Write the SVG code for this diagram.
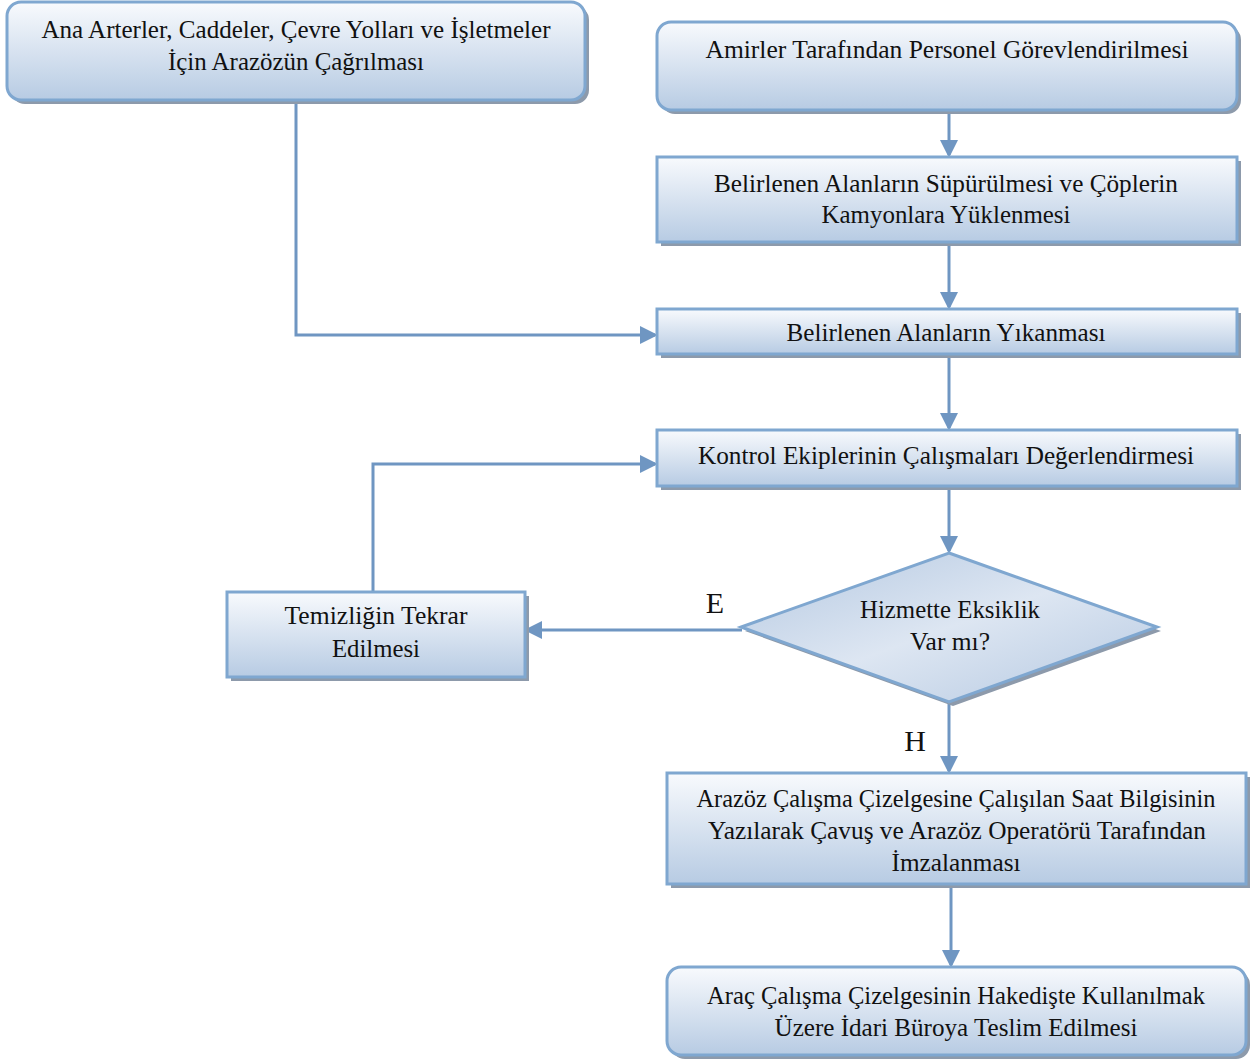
<svg xmlns="http://www.w3.org/2000/svg" width="1250" height="1062" viewBox="0 0 1250 1062">
<defs>
<linearGradient id="g" x1="0" y1="0" x2="0" y2="1">
<stop offset="0" stop-color="#f8fafd"/>
<stop offset="1" stop-color="#b7cbe3"/>
</linearGradient>
<linearGradient id="gd" x1="0" y1="0" x2="1" y2="1">
<stop offset="0" stop-color="#b4c8e1"/>
<stop offset="0.5" stop-color="#dde6f2"/>
<stop offset="1" stop-color="#b4c8e1"/>
</linearGradient>
<marker id="ah" markerWidth="6" markerHeight="6" refX="5" refY="3" orient="auto" markerUnits="strokeWidth">
<path d="M0,0 L6,3 L0,6 z" fill="#6f96c2"/>
</marker>
<style>
.box{fill:url(#g);stroke:#7fa7d0;stroke-width:3}
.sh{fill:#8d9aab}
.dia{fill:url(#gd);stroke:#7fa7d0;stroke-width:3}
.t{font-family:"Liberation Serif","DejaVu Serif",serif;font-size:25px;fill:#111;text-anchor:middle}
.lbl{font-family:"Liberation Serif","DejaVu Serif",serif;font-size:30px;fill:#111;text-anchor:middle}
.c{fill:none;stroke:#6f96c2;stroke-width:3;marker-end:url(#ah)}
</style>
</defs>

<g id="connectors">
<path class="c" d="M949,110 L949,155"/>
<path class="c" d="M949,242 L949,307"/>
<path class="c" d="M949,354 L949,428"/>
<path class="c" d="M949,486 L949,551"/>
<path class="c" d="M949,702 L949,771"/>
<path class="c" d="M951,884 L951,965"/>
<path class="c" d="M296,100 L296,335 L655,335"/>
<path class="c" d="M373,592 L373,464 L655,464"/>
<path class="c" d="M742,630 L527,630"/>
</g>

<g id="n1">
<rect class="sh" x="11" y="6" width="578" height="98" rx="14"/>
<rect class="box" x="7" y="2" width="578" height="98" rx="14"/>
<text class="t" x="296" y="38" textLength="509" lengthAdjust="spacingAndGlyphs">Ana Arterler, Caddeler, Çevre Yolları ve İşletmeler</text>
<text class="t" x="296" y="70" textLength="256" lengthAdjust="spacingAndGlyphs">İçin Arazözün Çağrılması</text>
</g>

<g id="n2">
<rect class="sh" x="661" y="26" width="580" height="88" rx="14"/>
<rect class="box" x="657" y="22" width="580" height="88" rx="14"/>
<text class="t" x="947" y="58" textLength="483" lengthAdjust="spacingAndGlyphs">Amirler Tarafından Personel Görevlendirilmesi</text>
</g>

<g id="n3">
<rect class="sh" x="661" y="161" width="580" height="85"/>
<rect class="box" x="657" y="157" width="580" height="85"/>
<text class="t" x="946" y="192" textLength="464" lengthAdjust="spacingAndGlyphs">Belirlenen Alanların Süpürülmesi ve Çöplerin</text>
<text class="t" x="946" y="223" textLength="249" lengthAdjust="spacingAndGlyphs">Kamyonlara Yüklenmesi</text>
</g>

<g id="n4">
<rect class="sh" x="661" y="313" width="580" height="45"/>
<rect class="box" x="657" y="309" width="580" height="45"/>
<text class="t" x="946" y="341" textLength="319" lengthAdjust="spacingAndGlyphs">Belirlenen Alanların Yıkanması</text>
</g>

<g id="n5">
<rect class="sh" x="661" y="434" width="580" height="56"/>
<rect class="box" x="657" y="430" width="580" height="56"/>
<text class="t" x="946" y="464" textLength="496" lengthAdjust="spacingAndGlyphs">Kontrol Ekiplerinin Çalışmaları Değerlendirmesi</text>
</g>

<g id="d1">
<polygon class="sh" points="953,557 1161,631 953,706 745,631"/>
<polygon class="dia" points="949,553 1157,627 949,702 741,627"/>
<text class="t" x="950" y="618" textLength="180" lengthAdjust="spacingAndGlyphs">Hizmette Eksiklik</text>
<text class="t" x="950" y="650" textLength="80" lengthAdjust="spacingAndGlyphs">Var mı?</text>
</g>

<g id="n6">
<rect class="sh" x="231" y="596" width="298" height="85"/>
<rect class="box" x="227" y="592" width="298" height="85"/>
<text class="t" x="376" y="624" textLength="183" lengthAdjust="spacingAndGlyphs">Temizliğin Tekrar</text>
<text class="t" x="376" y="657" textLength="88" lengthAdjust="spacingAndGlyphs">Edilmesi</text>
</g>

<g id="n7">
<rect class="sh" x="671" y="777" width="579" height="111"/>
<rect class="box" x="667" y="773" width="579" height="111"/>
<text class="t" x="956" y="807" textLength="519" lengthAdjust="spacingAndGlyphs">Arazöz Çalışma Çizelgesine Çalışılan Saat Bilgisinin</text>
<text class="t" x="957" y="839" textLength="498" lengthAdjust="spacingAndGlyphs">Yazılarak Çavuş ve Arazöz Operatörü Tarafından</text>
<text class="t" x="956" y="871" textLength="129" lengthAdjust="spacingAndGlyphs">İmzalanması</text>
</g>

<g id="n8">
<rect class="sh" x="671" y="971" width="579" height="88" rx="14"/>
<rect class="box" x="667" y="967" width="579" height="88" rx="14"/>
<text class="t" x="956" y="1004" textLength="498" lengthAdjust="spacingAndGlyphs">Araç Çalışma Çizelgesinin Hakedişte Kullanılmak</text>
<text class="t" x="956" y="1036" textLength="363" lengthAdjust="spacingAndGlyphs">Üzere İdari Büroya Teslim Edilmesi</text>
</g>

<g id="labels">
<text class="lbl" x="715" y="613">E</text>
<text class="lbl" x="915" y="751">H</text>
</g>
</svg>
